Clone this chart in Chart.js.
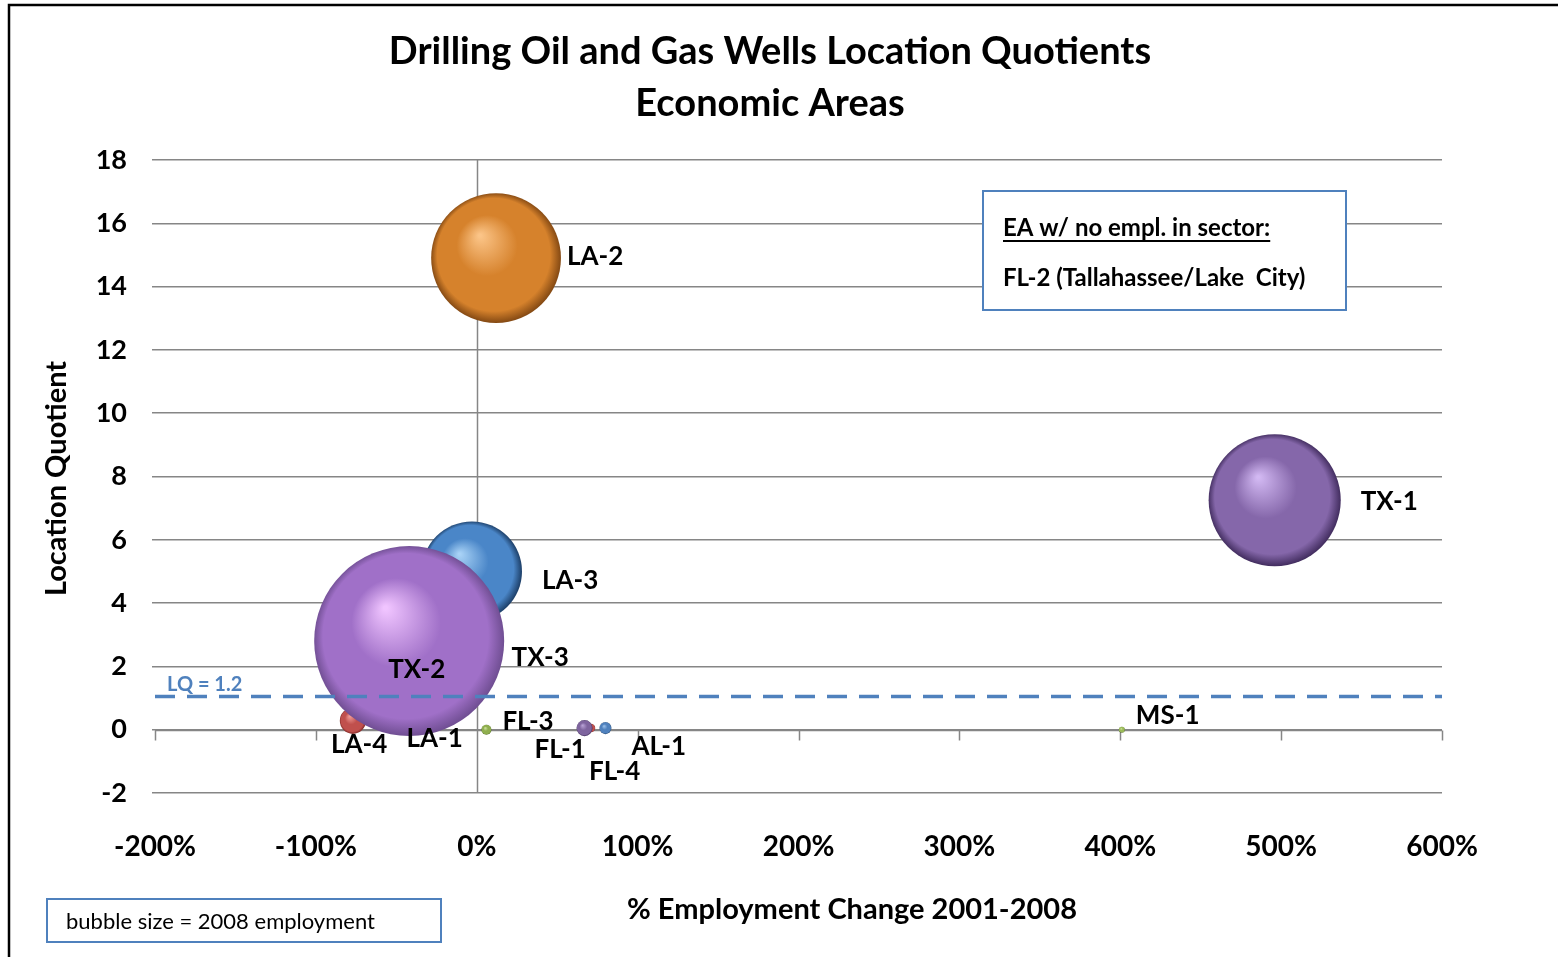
<!DOCTYPE html>
<html>
<head>
<meta charset="utf-8">
<script src="https://cdn.jsdelivr.net/npm/chart.js@4.4.1/dist/chart.umd.min.js"></script>
<style>
  html, body { margin: 0; padding: 0; background: #fff; }
  #wrap { position: absolute; left: 0; top: 0; width: 1558px; height: 957px; }
</style>
</head>
<body>
<div id="wrap"><canvas id="c" width="1558" height="957"></canvas></div>
<script>
// ---------------- DATA ----------------
const areas      = ['LA-1', 'TX-3', 'LA-4', 'LA-3', 'TX-2', 'LA-2', 'TX-1', 'FL-3', 'FL-4', 'FL-1', 'AL-1', 'MS-1'];
const empChange  = [-40,    -20,    -77,    -3,     -42,    12,     496,    6,      71,     67,     80,     401];   // % change 2001-2008
const locQuot    = [0.5,    2.5,    0.28,   5.0,    2.8,    14.9,   7.25,   0.0,    0.05,   0.05,   0.05,   0.0];
const employment = [20,     400,    170,    2500,   9000,   4200,   4350,   25,     18,     64,     36,     9];     // 2008 employment (bubble size)
const xTicks     = [-200, -100, 0, 100, 200, 300, 400, 500, 600];
const yTicks     = [-2, 0, 2, 4, 6, 8, 10, 12, 14, 16, 18];
const lqThreshold = 1.05;
const lqLabel    = 'LQ = 1.2';
const titleLines = ['Drilling Oil and Gas Wells Location Quotients', 'Economic Areas'];
const xTitle     = '% Employment Change 2001-2008';
const yTitle     = 'Location Quotient';
const noteTitle  = 'EA w/ no empl. in sector:';
const noteText   = 'FL-2 (Tallahassee/Lake  City)';
const sizeNote   = 'bubble size = 2008 employment';

// ---------------- STYLES ----------------
const FONT = 'Lato, "Open Sans", "Liberation Sans", sans-serif';
const maxEmp = Math.max(...employment);
const maxR = 95;
const palette = {
  'LA-1': ['#e58a86', '#c0504d', '#6e2220'],
  'TX-3': ['#c8b4e0', '#8064a2', '#3e2a5a'],
  'LA-4': ['#f09a96', '#c0504d', '#7a2422'],
  'LA-3': ['#a8d2f6', '#4a86c8', '#17365c'],
  'TX-2': ['#f0c4ff', '#a070c8', '#6a4a8c'],
  'LA-2': ['#fbc487', '#d6822c', '#7a4210'],
  'TX-1': ['#d2b8f2', '#8567aa', '#3a2656'],
  'FL-3': ['#cfe39e', '#8fae4e', '#4e6a1e'],
  'FL-4': ['#e58a86', '#c0504d', '#6e2220'],
  'FL-1': ['#b8a2d6', '#7e649e', '#3e2c58'],
  'AL-1': ['#9cc2ec', '#4f81bd', '#1f3f66'],
  'MS-1': ['#cfe39e', '#9bbb59', '#4e6a1e']
};
// label offsets relative to bubble centre [dx, dy]
const labelOffsets = {
  'LA-1': [-6, 25], 'TX-3': [67, 7], 'LA-4': [-22, 24], 'LA-3': [70, 9],
  'TX-2': [-21, 29], 'LA-2': [71, -2], 'TX-1': [86, 1], 'FL-3': [16, -8],
  'FL-4': [-2, 43], 'FL-1': [-50, 21], 'AL-1': [26, 18], 'MS-1': [14, -14]
};

const bubbleData = areas.map((a, i) => ({
  x: empChange[i], y: locQuot[i], r: maxR * Math.sqrt(employment[i] / maxEmp), label: a
}));

function sphereFill(ctx) {
  const raw = ctx.raw;
  if (!raw || !palette[raw.label]) return '#888';
  const cols = palette[raw.label];
  const chart = ctx.chart;
  const xs = chart.scales.x, ys = chart.scales.y;
  if (!xs || !ys || !isFinite(xs.getPixelForValue(raw.x))) return cols[1];
  const cx = xs.getPixelForValue(raw.x), cy = ys.getPixelForValue(raw.y), r = Math.max(raw.r, 1);
  const g = chart.ctx.createRadialGradient(cx - 0.25 * r, cy - 0.35 * r, 0.02 * r, cx, cy, r * 1.02);
  g.addColorStop(0, cols[0]);
  g.addColorStop(0.45, cols[1]);
  g.addColorStop(0.85, cols[1]);
  g.addColorStop(1, cols[2]);
  return g;
}

const frame = {
  id: 'frame',
  beforeDraw(chart) {
    const c = chart.ctx;
    c.save();
    c.fillStyle = '#fff';
    c.fillRect(0, 0, chart.width, chart.height);
    c.strokeStyle = '#000';
    c.lineWidth = 2.5;
    c.beginPath();
    c.moveTo(9, 957); c.lineTo(9, 5); c.lineTo(1558, 5);
    c.stroke();
    c.restore();
  }
};

const axesCross = {
  id: 'axesCross',
  beforeDatasetsDraw(chart) {
    const c = chart.ctx, xs = chart.scales.x, ys = chart.scales.y, a = chart.chartArea;
    c.save();
    c.strokeStyle = '#868686';
    c.lineWidth = 1.5;
    const y0 = Math.round(ys.getPixelForValue(0)) + 0.5;
    const x0 = Math.round(xs.getPixelForValue(0)) + 0.5;
    c.beginPath();
    c.moveTo(a.left, y0); c.lineTo(a.right, y0);
    xTicks.forEach(v => {
      const px = Math.round(xs.getPixelForValue(v)) + 0.5;
      c.moveTo(px, y0); c.lineTo(px, y0 + 10);
    });
    c.moveTo(x0, a.top); c.lineTo(x0, a.bottom);
    c.stroke();
    c.restore();
  }
};

const annotations = {
  id: 'annotations',
  afterDatasetsDraw(chart) {
    const c = chart.ctx, xs = chart.scales.x, ys = chart.scales.y;
    c.save();
    // bubble labels
    c.fillStyle = '#000';
    c.font = 'bold 26px ' + FONT;
    c.textAlign = 'left';
    c.textBaseline = 'middle';
    const meta = chart.getDatasetMeta(1);
    meta.data.forEach((el, i) => {
      const name = areas[i];
      const off = labelOffsets[name];
      c.fillText(name, el.x + off[0], el.y + off[1]);
    });
    // LQ label
    c.fillStyle = '#4f81bd';
    c.font = 'bold 20px ' + FONT;
    c.fillText(lqLabel, 167, ys.getPixelForValue(lqThreshold) - 12);
    // title
    c.fillStyle = '#000';
    c.textAlign = 'center';
    c.font = 'bold 38px ' + FONT;
    c.fillText(titleLines[0], 770, 52);
    c.fillText(titleLines[1], 770, 104);
    // x title
    c.font = 'bold 29px ' + FONT;
    c.fillText(xTitle, 852, 910);
    // y title
    c.save();
    c.translate(57, (chart.chartArea.top + chart.chartArea.bottom) / 2 + 2);
    c.rotate(-Math.PI / 2);
    c.font = 'bold 29px ' + FONT;
    c.fillText(yTitle, 0, 0);
    c.restore();
    // note box
    c.fillStyle = '#fff';
    c.fillRect(983, 191, 363, 119);
    c.strokeStyle = '#4f81bd';
    c.lineWidth = 2;
    c.strokeRect(983, 191, 363, 119);
    c.fillStyle = '#000';
    c.textAlign = 'left';
    c.font = 'bold 24px ' + FONT;
    c.fillText(noteTitle, 1003, 228);
    const w = c.measureText(noteTitle).width;
    c.fillRect(1003, 240, w, 2);
    c.fillText(noteText, 1003, 278);
    // bubble size box
    c.strokeStyle = '#4f81bd';
    c.strokeRect(47, 899, 394, 43);
    c.font = '22px ' + FONT;
    c.fillText(sizeNote, 66, 922);
    c.restore();
  }
};

new Chart(document.getElementById('c'), {
  data: {
    datasets: [
      {
        type: 'line',
        data: [{ x: xTicks[0], y: lqThreshold }, { x: xTicks[xTicks.length - 1], y: lqThreshold }],
        borderColor: '#4f81bd',
        borderWidth: 3.5,
        borderDash: [20, 12],
        pointRadius: 0,
        fill: false,
        order: 1
      },
      {
        type: 'bubble',
        data: bubbleData,
        backgroundColor: sphereFill,
        borderWidth: 0,
        hoverRadius: 0,
        order: 2
      }
    ]
  },
  options: {
    responsive: false,
    animation: false,
    devicePixelRatio: 1,
    layout: { padding: { left: 0, top: 160, right: 116, bottom: 0 } },
    plugins: { legend: { display: false }, tooltip: { enabled: false }, title: { display: false } },
    scales: {
      x: {
        type: 'linear',
        min: xTicks[0], max: xTicks[xTicks.length - 1],
        afterBuildTicks: s => { s.ticks = xTicks.map(v => ({ value: v })); },
        afterFit: s => { s.height = 164; },
        grid: { display: false },
        border: { display: false },
        ticks: {
          padding: 29,
          color: '#000',
          font: { family: FONT, size: 28, weight: 'bold' },
          callback: v => v + '%'
        }
      },
      y: {
        type: 'linear',
        min: yTicks[0], max: yTicks[yTicks.length - 1],
        afterBuildTicks: s => { s.ticks = yTicks.map(v => ({ value: v })); },
        afterFit: s => { s.width = 155; },
        grid: { color: '#868686', lineWidth: 1.5, drawTicks: true, tickLength: 3 },
        border: { display: false },
        ticks: {
          padding: 25,
          color: '#000',
          font: { family: FONT, size: 27, weight: 'bold' }
        }
      }
    }
  },
  plugins: [frame, axesCross, annotations]
});
</script>
</body>
</html>
